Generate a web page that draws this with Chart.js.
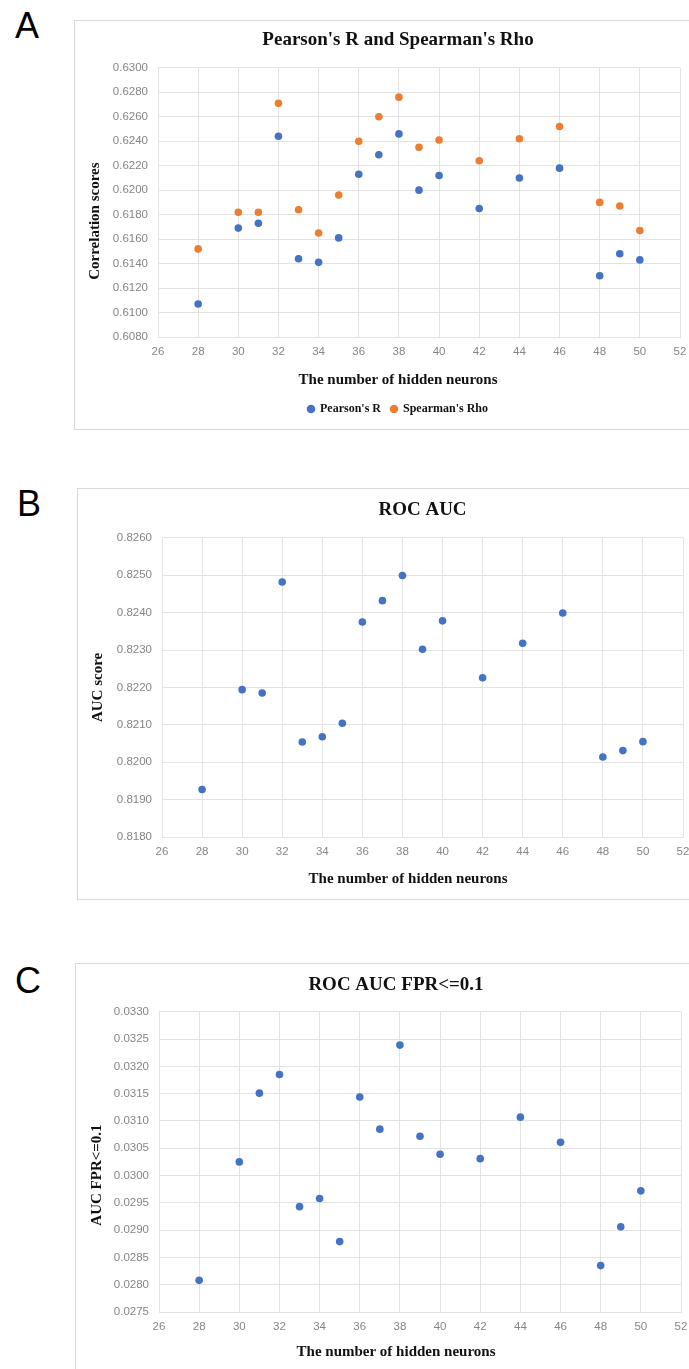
<!DOCTYPE html>
<html>
<head>
<meta charset="utf-8">
<title>Hidden neurons sweep</title>
<script src="https://cdn.jsdelivr.net/npm/chart.js@4.4.0/dist/chart.umd.min.js"></script>
<style>
    html, body { margin: 0; padding: 0; background: #fff; }
    body { width: 689px; height: 1369px; position: relative; overflow: hidden; }
    .panel { position: absolute; border: 1px solid #d9d9d9; background: #fff; }
    .panel canvas { display: block; }
    .tag { position: absolute; font-family: 'Liberation Sans', Arial, sans-serif; font-size: 36px; line-height: 1; color: #000; }
</style>
</head>
<body>
<div class="tag" style="left:15px;top:8px">A</div>
<div class="panel" style="left:74px;top:20px"><canvas id="chartA" width="646" height="408"></canvas></div>

<div class="tag" style="left:17px;top:486px">B</div>
<div class="panel" style="left:77px;top:488px"><canvas id="chartB" width="660" height="410"></canvas></div>

<div class="tag" style="left:15px;top:963px">C</div>
<div class="panel" style="left:75px;top:963px"><canvas id="chartC" width="640" height="430"></canvas></div>

<script>
// Scores vs. number of hidden neurons

const neurons = [28, 30, 31, 32, 33, 34, 35, 36, 37, 38, 39, 40, 42, 44, 46, 48, 49, 50];

const pearsonR = [0.6107, 0.6169, 0.6173, 0.6244, 0.6144, 0.6141, 0.6161, 0.6213, 0.6229,
                  0.6246, 0.6200, 0.6212, 0.6185, 0.6210, 0.6218, 0.6130, 0.6148, 0.6143];
const spearmanRho = [0.6152, 0.6182, 0.6182, 0.6271, 0.6184, 0.6165, 0.6196, 0.6240, 0.6260,
                     0.6276, 0.6235, 0.6241, 0.6224, 0.6242, 0.6252, 0.6190, 0.6187, 0.6167];
const rocAuc = [0.81927, 0.82194, 0.82185, 0.82482, 0.82054, 0.82068, 0.82104, 0.82375, 0.82432,
                0.82499, 0.82302, 0.82378, 0.82226, 0.82318, 0.82399, 0.82014, 0.82031, 0.82055];
const rocAucFpr = [0.02808, 0.03025, 0.03151, 0.03185, 0.02943, 0.02958, 0.02879, 0.03144, 0.03085,
                   0.03239, 0.03072, 0.03039, 0.03031, 0.03107, 0.03061, 0.02835, 0.02906, 0.02972];

// axis ranges: [min, max, step]
const neuronAxis = [26, 52, 2];
const corrAxis = [0.608, 0.630, 0.002];
const aucAxis = [0.818, 0.826, 0.001];
const fprAxis = [0.0275, 0.0330, 0.0005];

const BLUE = '#4472C4';
const ORANGE = '#ED7D31';
const GRID = '#e3e3e3';
const TICK = '#858585';
const SERIF = "'Liberation Serif', 'Times New Roman', serif";
const SANS = "'Liberation Sans', Arial, sans-serif";

function toPoints(values) {
    return neurons.map((n, i) => ({ x: n, y: values[i] }));
}

function series(label, values, color) {
    return {
        label: label,
        data: toPoints(values),
        backgroundColor: color,
        borderColor: color,
        pointRadius: 3.8,
        pointBorderWidth: 0,
        pointHoverRadius: 3.8,
        pointStyle: 'circle'
    };
}

function buildChart(canvasId, cfg) {
    const ctx = document.getElementById(canvasId).getContext('2d');
    // trailing spaces nudge the rotated axis title down a little, like the original
    const yTitle = cfg.yTitle + ' '.repeat(cfg.yTitleShift || 0);
    return new Chart(ctx, {
        type: 'scatter',
        data: { datasets: cfg.datasets },
        options: {
            responsive: false,
            animation: false,
            devicePixelRatio: 1,
            layout: { padding: { top: 0, left: 0, right: 0, bottom: cfg.bottomPad } },
            plugins: {
                tooltip: { enabled: false },
                title: {
                    display: true,
                    text: cfg.title,
                    color: '#111',
                    fullSize: cfg.titleFullSize,
                    font: { family: SERIF, size: 19, weight: 'bold' },
                    padding: cfg.titlePad
                },
                subtitle: {
                    display: true,
                    position: 'bottom',
                    weight: 500,
                    text: 'The number of hidden neurons',
                    color: '#111',
                    font: { family: SERIF, size: 15, weight: 'bold' },
                    padding: cfg.xTitlePad
                },
                legend: {
                    display: cfg.legend,
                    position: 'bottom',
                    labels: {
                        usePointStyle: true,
                        pointStyle: 'circle',
                        boxWidth: 6,
                        boxHeight: 6,
                        padding: 10,
                        color: '#111',
                        font: { family: SERIF, size: 12, weight: 'bold' }
                    }
                }
            },
            scales: {
                x: {
                    type: 'linear',
                    min: neuronAxis[0],
                    max: neuronAxis[1],
                    grid: { color: GRID, drawTicks: false },
                    border: { color: GRID },
                    ticks: {
                        stepSize: neuronAxis[2],
                        autoSkip: false,
                        maxRotation: 0,
                        padding: 8,
                        color: TICK,
                        font: { family: SANS, size: 11.5 }
                    },
                    afterFit: (scale) => { scale.height = 22; }
                },
                y: {
                    type: 'linear',
                    position: 'left',
                    min: cfg.yAxis[0],
                    max: cfg.yAxis[1],
                    grid: { color: GRID, drawTicks: false },
                    border: { color: GRID },
                    title: {
                        display: true,
                        text: yTitle,
                        color: '#111',
                        font: { family: SERIF, size: 15, weight: 'bold' },
                        padding: { top: cfg.yTitlePad, bottom: 0 }
                    },
                    ticks: {
                        stepSize: cfg.yAxis[2],
                        autoSkip: false,
                        padding: 10,
                        color: TICK,
                        font: { family: SANS, size: 11.5 },
                        callback: (value) => value.toFixed(4)
                    },
                    afterFit: (scale) => { scale.width = cfg.yWidth; }
                },
                // empty right gutter so the titles centre on the whole box
                gutter: {
                    type: 'linear',
                    position: 'right',
                    display: true,
                    grid: { display: false },
                    border: { display: false },
                    ticks: { display: false },
                    afterFit: (scale) => { scale.width = cfg.rightWidth; }
                }
            }
        }
    });
}

buildChart('chartA', {
    title: "Pearson's R and Spearman's Rho",
    yTitle: 'Correlation scores',
    yTitleShift: 10,
    datasets: [
        series("Pearson's R", pearsonR, BLUE),
        series("Spearman's Rho", spearmanRho, ORANGE)
    ],
    yAxis: corrAxis,
    legend: true,
    titleFullSize: true,
    titlePad: { top: 8, bottom: 16 },
    xTitlePad: { top: 12, bottom: 4 },
    yTitlePad: 11,
    yWidth: 83,
    rightWidth: 41,
    bottomPad: 4
});

buildChart('chartB', {
    title: 'ROC AUC',
    yTitle: 'AUC score',
    datasets: [series('ROC AUC', rocAuc, BLUE)],
    yAxis: aucAxis,
    legend: false,
    titleFullSize: false,
    titlePad: { top: 10, bottom: 16 },
    xTitlePad: { top: 11, bottom: 4 },
    yTitlePad: 11,
    yWidth: 84,
    rightWidth: 55,
    bottomPad: 7
});

buildChart('chartC', {
    title: 'ROC AUC FPR<=0.1',
    yTitle: 'AUC FPR<=0.1',
    yTitleShift: 7,
    datasets: [series('AUC FPR<=0.1', rocAucFpr, BLUE)],
    yAxis: fprAxis,
    legend: false,
    titleFullSize: true,
    titlePad: { top: 10, bottom: 15 },
    xTitlePad: { top: 9, bottom: 4 },
    yTitlePad: 12,
    yWidth: 83,
    rightWidth: 35,
    bottomPad: 29
});
</script>
</body>
</html>
